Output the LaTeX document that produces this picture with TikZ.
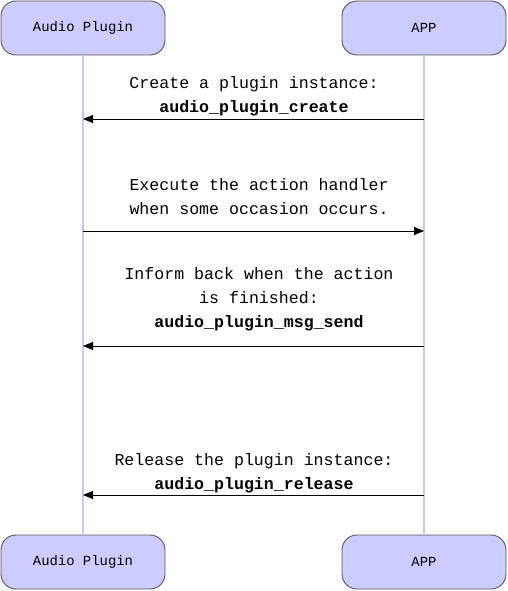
\documentclass[tikz,border=0pt]{standalone}
\usepackage{fontspec}
\setmonofont{Liberation Mono}
\usetikzlibrary{arrows.meta}
\definecolor{boxfill}{HTML}{CCCCFF}
\definecolor{boxdraw}{HTML}{555555}
\definecolor{lifeline}{HTML}{C8C8F8}
\tikzset{
  actor/.style={draw=boxdraw, fill=boxfill, line width=0.9pt, rounded corners=15pt,
    minimum width=164pt, minimum height=54pt, inner sep=0pt,
    font=\ttfamily\fontsize{13.9}{16}\selectfont},
  life/.style={draw=lifeline, line width=1.2pt},
  msg/.style={draw=black, line width=0.9pt, -{Triangle[length=10pt,width=8pt]}},
  msgtext/.style={align=center, inner sep=0pt, font=\ttfamily\fontsize{16.6}{24}\selectfont}
}
\begin{document}
\begin{tikzpicture}[x=1pt,y=-1pt]
\useasboundingbox (0,0) rectangle (508,591);
% actors
\node[actor] (plugT) at (83,28) {Audio Plugin};
\node[actor] (appT) at (424,28) {APP};
\node[actor] (plugB) at (83,562) {Audio Plugin};
\node[actor] (appB) at (424,562) {APP};
% lifelines
\draw[life] (plugT.south) -- (plugB.north);
\draw[life] (appT.south) -- (appB.north);
% message end points
\coordinate (p1) at (83,119);  \coordinate (a1) at (424,119);
\coordinate (p2) at (83,231);  \coordinate (a2) at (424,231);
\coordinate (p3) at (83,346);  \coordinate (a3) at (424,346);
\coordinate (p4) at (83,495);  \coordinate (a4) at (424,495);
% messages
\draw[msg] (a1) -- (p1);
\node[msgtext] (t1) at (254,96.5) {Create a plugin instance:\\\textbf{audio\_plugin\_create}};
\draw[msg] (p2) -- (a2);
\node[msgtext] (t2) at (259,197) {Execute the action handler\\when some occasion occurs.};
\draw[msg] (a3) -- (p3);
\node[msgtext] (t3) at (259,299) {Inform back when the action\\is finished:\\\textbf{audio\_plugin\_msg\_send}};
\draw[msg] (a4) -- (p4);
\node[msgtext] (t4) at (254,473) {Release the plugin instance:\\\textbf{audio\_plugin\_release}};
\end{tikzpicture}
\end{document}
